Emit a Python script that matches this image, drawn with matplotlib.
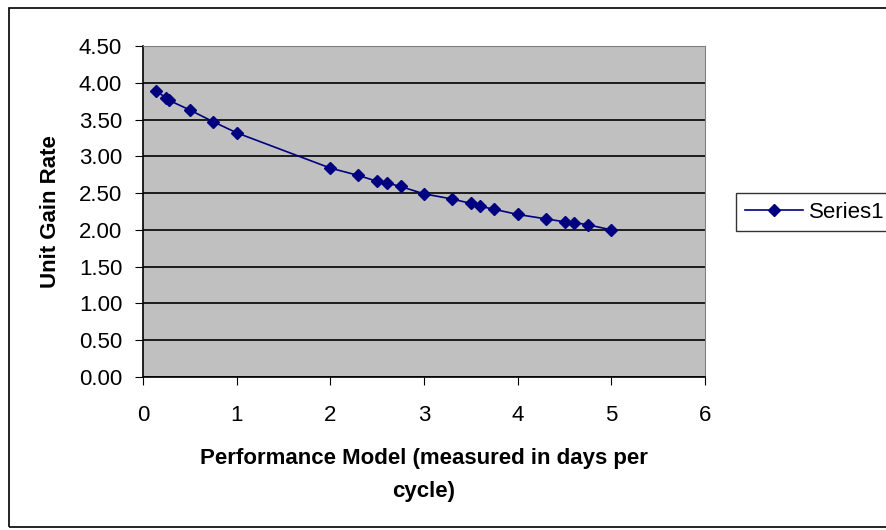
import matplotlib

matplotlib.use("Agg")
import matplotlib.pyplot as plt
from matplotlib.patches import Rectangle

plt.rcParams["font.family"] = ["Liberation Sans", "DejaVu Sans"]

# Performance model (days per cycle) vs unit gain rate
days_per_cycle = [0.14, 0.25, 0.28, 0.5, 0.75, 1, 2, 2.3, 2.5, 2.6, 2.75,
                  3, 3.3, 3.5, 3.6, 3.75, 4, 4.3, 4.5, 4.6, 4.75, 5]
gain_rate = [3.89, 3.79, 3.76, 3.63, 3.47, 3.32, 2.84, 2.74, 2.66, 2.64, 2.59,
             2.49, 2.42, 2.36, 2.32, 2.28, 2.21, 2.15, 2.11, 2.10, 2.07, 2.00]
series_name = "Series1"

x_ticks = [0, 1, 2, 3, 4, 5, 6]
y_ticks = [0.0, 0.5, 1.0, 1.5, 2.0, 2.5, 3.0, 3.5, 4.0, 4.5]

W, H = 887, 530
fig = plt.figure(figsize=(W / 100, H / 100), dpi=100)
fig.patch.set_facecolor("white")

# chart area frame
fig.patches.append(Rectangle((9 / W, 3 / H), 1.0, 519 / H, transform=fig.transFigure,
                             fill=False, edgecolor="black", linewidth=1.2))

ax = fig.add_axes([143 / W, 1 - 377 / H, (705 - 143) / W, (377 - 46) / H])
ax.set_facecolor("#C0C0C0")

line, = ax.plot(days_per_cycle, gain_rate, color="#000080", linewidth=1.2,
                marker="D", markersize=6.5, label=series_name, zorder=3)

ax.set_xlim(0, 6)
ax.set_ylim(0, 4.5)
ax.set_xticks(x_ticks)
ax.set_yticks(y_ticks)
ax.set_yticklabels([f"{v:.2f}" for v in y_ticks])
ax.yaxis.grid(True, color="black", linewidth=1.2)
ax.set_axisbelow(True)

for side in ["top", "right"]:
    ax.spines[side].set_color("#808080")
for side in ["left", "bottom"]:
    ax.spines[side].set_color("black")
    ax.spines[side].set_linewidth(1.2)

ax.tick_params(axis="x", direction="out", length=6, pad=14, labelsize=16, color="black")
ax.tick_params(axis="y", direction="out", length=6, pad=9, labelsize=16, color="black")

ax.set_xlabel("Performance Model (measured in days per\ncycle)", fontsize=16,
              fontweight="bold", labelpad=16, linespacing=1.75)
ax.set_ylabel("Unit Gain Rate", fontsize=16, fontweight="bold", labelpad=13)

leg = fig.legend(handles=[line], loc="center left", bbox_to_anchor=(736 / W, 1 - 212 / H),
                 frameon=True, fancybox=False, edgecolor="black", fontsize=16,
                 handlelength=2.6, handletextpad=0.3, borderpad=0.4, borderaxespad=0)
leg.get_frame().set_linewidth(1.0)

fig.savefig("out.png", dpi=100)
